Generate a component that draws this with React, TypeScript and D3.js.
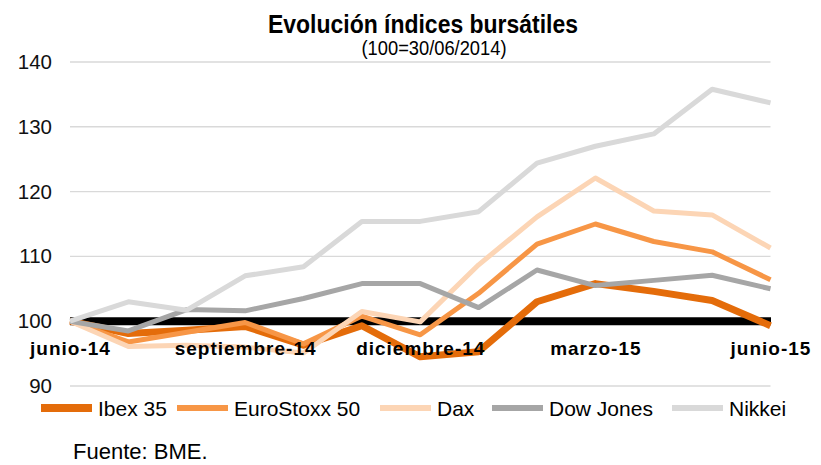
import * as d3 from "d3";

const months = [
  "2014-06", "2014-07", "2014-08", "2014-09", "2014-10", "2014-11", "2014-12",
  "2015-01", "2015-02", "2015-03", "2015-04", "2015-05", "2015-06",
];
const tickMonths = ["2014-06", "2014-09", "2014-12", "2015-03", "2015-06"];
const tickLabels = ["junio-14", "septiembre-14", "diciembre-14", "marzo-15", "junio-15"];
const yTicks = [90, 100, 110, 120, 130, 140];

const seriesNames = ["Ibex 35", "EuroStoxx 50", "Dax", "Dow Jones", "Nikkei"];
const ibex = [100, 98.1, 98.6, 99.2, 96.3, 99.3, 94.5, 95.3, 103.0, 105.8, 104.6, 103.2, 99.3];
const eurostoxx = [100, 96.8, 98.3, 99.8, 96.5, 100.8, 97.9, 104.3, 111.9, 115.0, 112.3, 110.7, 106.4];
const dax = [100, 96.1, 96.3, 96.0, 95.1, 101.5, 99.9, 108.7, 116.1, 122.1, 117.0, 116.4, 111.3];
const dowJones = [100, 98.5, 101.8, 101.6, 103.5, 105.8, 105.8, 102.1, 107.9, 105.5, 106.3, 107.1, 105.0];
const nikkei = [100, 103.0, 101.7, 107.0, 108.4, 115.4, 115.4, 116.9, 124.4, 127.0, 128.9, 135.8, 133.7];

const colors = ["#E46C0A", "#F79646", "#FCD5B5", "#A6A6A6", "#D9D9D9"];
const widths = [7, 5, 5, 5, 5];
const values = [ibex, eurostoxx, dax, dowJones, nikkei];

const legendX = [41, 177, 380, 492, 672];

export default function App() {
  const x = d3.scalePoint<string>().domain(months).range([70, 770.5]);
  const y = d3.scaleLinear().domain([90, 140]).range([386, 62]);
  const line = d3
    .line<number>()
    .x((_, i) => x(months[i]) as number)
    .y((d) => y(d));

  const font = "'Liberation Sans', Arial, Helvetica, sans-serif";

  return (
    <svg
      width={821}
      height={465}
      viewBox="0 0 821 465"
      style={{ position: "absolute", left: 0, top: 0, background: "white" }}
      fontFamily={font}
    >
      <text
        x={423}
        y={33}
        fontSize={25}
        fontWeight="bold"
        textAnchor="middle"
        textLength={310}
        lengthAdjust="spacingAndGlyphs"
      >
        Evolución índices bursátiles
      </text>
      <text
        x={434}
        y={55}
        fontSize={20}
        textAnchor="middle"
        textLength={145}
        lengthAdjust="spacingAndGlyphs"
      >
        (100=30/06/2014)
      </text>

      {/* grid */}
      {yTicks
        .filter((t) => t !== 100)
        .map((t) => (
          <line key={t} x1={70} x2={770.5} y1={y(t)} y2={y(t)} stroke="#D9D9D9" strokeWidth={1.4} />
        ))}
      {yTicks.map((t) => (
        <text key={t} x={52} y={y(t) + 7} fontSize={20.5} textAnchor="end" fill="#111">
          {t}
        </text>
      ))}

      {/* base line 100 */}
      <line x1={70} x2={771} y1={y(100)} y2={y(100)} stroke="#000" strokeWidth={8} />

      {values.map((v, i) => (
        <path
          key={seriesNames[i]}
          d={line(v) || ""}
          fill="none"
          stroke={colors[i]}
          strokeWidth={widths[i]}
          strokeLinejoin="round"
        />
      ))}

      {tickMonths.map((m, i) => (
        <text
          key={m}
          x={(x(m) as number) + 0.5}
          y={355}
          fontSize={19}
          fontWeight="bold"
          letterSpacing={1}
          textAnchor="middle"
          fill="#000"
        >
          {tickLabels[i]}
        </text>
      ))}

      {/* legend */}
      {seriesNames.map((n, i) => (
        <g key={n}>
          <line
            x1={legendX[i]}
            x2={legendX[i] + 51}
            y1={408}
            y2={408}
            stroke={colors[i]}
            strokeWidth={widths[i] + 1}
          />
          <text x={legendX[i] + 57} y={416} fontSize={21} fill="#000">
            {n}
          </text>
        </g>
      ))}

      <text x={73} y={459} fontSize={22} fill="#000">
        Fuente: BME.
      </text>
    </svg>
  );
}
